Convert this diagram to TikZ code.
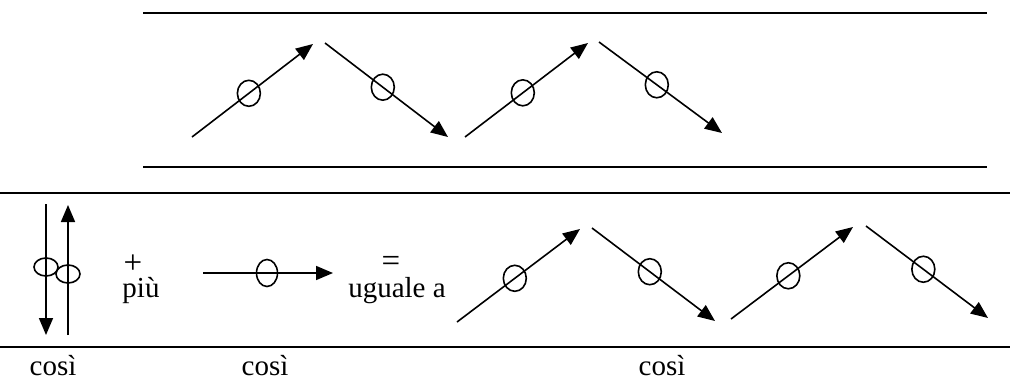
\documentclass[tikz,border=0pt]{standalone}
\usepackage{fontspec}
\setmainfont{Liberation Serif}
\usepackage{tikz}
\usetikzlibrary{arrows.meta,calc,shapes.geometric}

\begin{document}
\begin{tikzpicture}[x=1pt, y=-1pt, font=\fontsize{29}{32}\selectfont,
  rule/.style={line width=1.9pt},
  arr/.style={line width=1.6pt, -{Triangle[length=17pt,width=14pt]}},
  ring/.style={draw, ellipse, line width=1.6pt, inner sep=0pt, minimum width=23pt, minimum height=26pt},
  flatring/.style={draw, ellipse, line width=1.6pt, inner sep=0pt, minimum width=24pt, minimum height=18pt},
  sign/.style={inner sep=0pt, font=\fontsize{33}{33}\selectfont}]
\useasboundingbox (0,0) rectangle (1010,381);
\coordinate (t1l) at (143,13); \coordinate (t1r) at (987,13);
\coordinate (t2l) at (143,167); \coordinate (t2r) at (987,167);
\coordinate (b1l) at (0,193); \coordinate (b1r) at (1010,193);
\coordinate (b2l) at (0,347); \coordinate (b2r) at (1010,347);
\draw[rule] (t1l) -- (t1r);
\draw[rule] (t2l) -- (t2r);
\draw[rule] (b1l) -- (b1r);
\draw[rule] (b2l) -- (b2r);
\coordinate (a1s) at (192,137); \coordinate (a1e) at (313,44);
\coordinate (a2s) at (325,43);  \coordinate (a2e) at (448,137);
\coordinate (a3s) at (465,137); \coordinate (a3e) at (588,43);
\coordinate (a4s) at (599,42);  \coordinate (a4e) at (722,133);
\draw[arr] (a1s) -- (a1e); \node[ring] (r1) at ($(a1s)!0.47!(a1e)$) {};
\draw[arr] (a2s) -- (a2e); \node[ring] (r2) at ($(a2s)!0.47!(a2e)$) {};
\draw[arr] (a3s) -- (a3e); \node[ring] (r3) at ($(a3s)!0.47!(a3e)$) {};
\draw[arr] (a4s) -- (a4e); \node[ring] (r4) at ($(a4s)!0.47!(a4e)$) {};
\coordinate (d1s) at (46,204); \coordinate (d1e) at (46,335);
\coordinate (u1s) at (68,335); \coordinate (u1e) at (68,205);
\draw[arr] (d1s) -- (d1e); \node[flatring] (r9) at (46,267) {};
\draw[arr] (u1s) -- (u1e); \node[flatring] (r10) at (68,274) {};
\node[sign] (plus) at (133,264) {+};
\node[anchor=base, inner sep=0pt] (piu) at (141,297) {più};
\coordinate (hs) at (203,273); \coordinate (he) at (333,273);
\draw[arr] (hs) -- (he); \node[ring, minimum width=21pt, minimum height=27pt] (r11) at (267,273) {};
\node[sign] (eq) at (391,264) {=};
\node[anchor=base, inner sep=0pt] (ugu) at (397,297) {uguale a};
\coordinate (b1s) at (457,322); \coordinate (b1e) at (580,229);
\coordinate (b2s) at (592,228); \coordinate (b2e) at (715,321);
\coordinate (b3s) at (731,319); \coordinate (b3e) at (853,227);
\coordinate (b4s) at (866,226); \coordinate (b4e) at (988,318);
\draw[arr] (b1s) -- (b1e); \node[ring] (r5) at ($(b1s)!0.47!(b1e)$) {};
\draw[arr] (b2s) -- (b2e); \node[ring] (r6) at ($(b2s)!0.47!(b2e)$) {};
\draw[arr] (b3s) -- (b3e); \node[ring] (r7) at ($(b3s)!0.47!(b3e)$) {};
\draw[arr] (b4s) -- (b4e); \node[ring] (r8) at ($(b4s)!0.47!(b4e)$) {};
\node[anchor=base] (c1) at (53,375) {così};
\node[anchor=base] (c2) at (265,375) {così};
\node[anchor=base] (c3) at (662,375) {così};
\end{tikzpicture}
\end{document}
